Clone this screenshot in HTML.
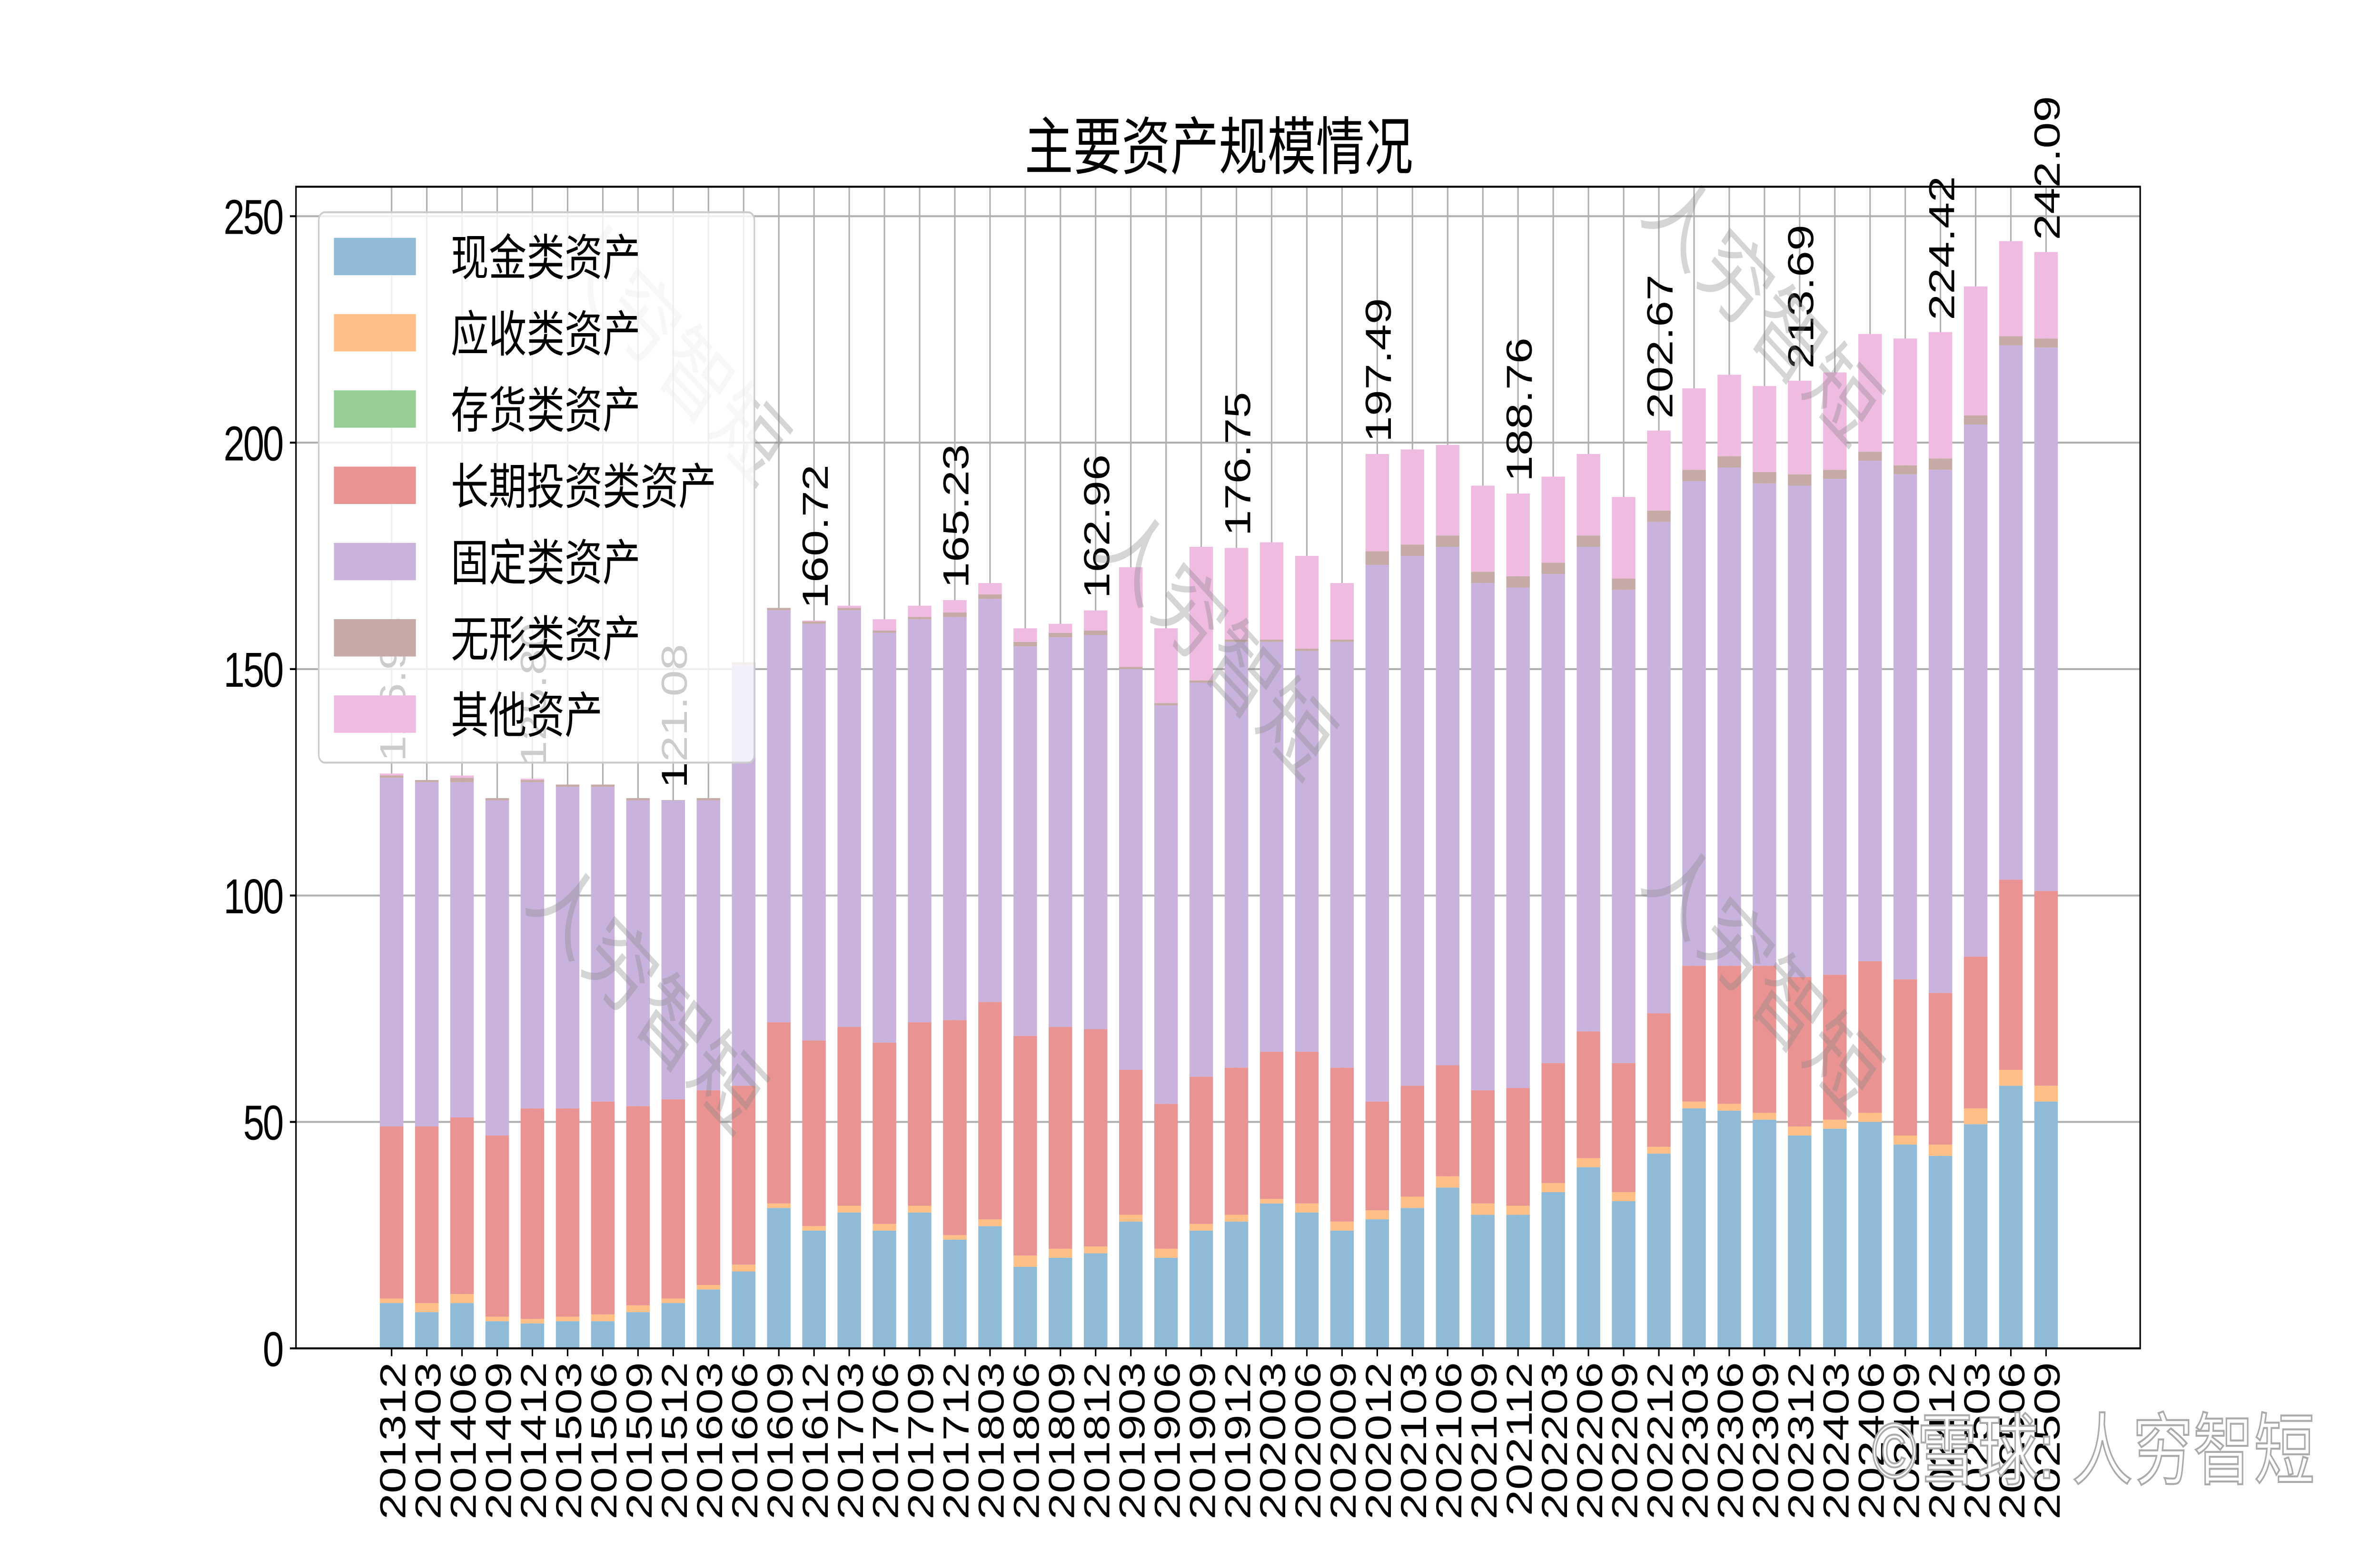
<!DOCTYPE html>
<html><head><meta charset="utf-8"><style>
html,body{margin:0;padding:0;background:#fff;overflow:hidden;width:100vw;height:100vh;}
svg{display:block;width:100vw;height:100vh;font-family:"Liberation Sans","Noto Sans CJK SC",sans-serif;}
</style></head><body>
<svg id="chart" xmlns="http://www.w3.org/2000/svg" viewBox="0 0 1568 784" preserveAspectRatio="none">
<rect width="1568" height="784" fill="#fff"/>
<text x="803" y="86" font-size="32" text-anchor="middle" fill="#000">主要资产规模情况</text>
<g id="grid"></g>
<g id="bars"></g>
<g id="labels"></g>
<g id="watermarks" fill="#888" fill-opacity="0.35" font-size="46">
<text transform="translate(360,130) rotate(40)">人穷智短</text>
<text transform="translate(720,280) rotate(40)">人穷智短</text>
<text transform="translate(345,460) rotate(40)">人穷智短</text>
<text transform="translate(1080,110) rotate(40)">人穷智短</text>
<text transform="translate(1080,450) rotate(40)">人穷智短</text>
</g>
<rect x="195" y="95" width="1215" height="591" fill="none" stroke="#000" stroke-width="1"/>
<g id="axes"></g>
<g id="legend"></g>
<text x="1525" y="752" font-size="40" text-anchor="end" fill="#fff" stroke="#aaa" stroke-width="1">©雪球: 人穷智短</text>
</svg>
<script>
const categories=["201312","201403","201406","201409","201412","201503","201506","201509","201512","201603","201606","201609","201612","201703","201706","201709","201712","201803","201806","201809","201812","201903","201906","201909","201912","202003","202006","202009","202012","202103","202106","202109","202112","202203","202206","202209","202212","202303","202306","202309","202312","202403","202406","202409","202412","202503","202506","202509"];
const cashAssets=[10,8,10,6,5.5,6,6,8,10,13,17,31,26,30,26,30,24,27,18,20,21,28,20,26,28,32,30,26,28.5,31,35.5,29.5,29.5,34.5,40,32.5,43,53,52.5,50.5,47,48.5,50,45,42.5,49.5,58,54.5];
const receivableAssets=[1,2,2,1,1,1,1.5,1.5,1,1,1.5,1,1,1.5,1.5,1.5,1,1.5,2.5,2,1.5,1.5,2,1.5,1.5,1,2,2,2,2.5,2.5,2.5,2,2,2,2,1.5,1.5,1.5,1.5,2,2,2,2,2.5,3.5,3.5,3.5];
const inventoryAssets=[0,0,0,0,0,0,0,0,0,0,0,0,0,0,0,0,0,0,0,0,0,0,0,0,0,0,0,0,0,0,0,0,0,0,0,0,0,0,0,0,0,0,0,0,0,0,0,0];
const investAssets=[38,39,39,40,46.5,46,47,44,44,43,39.5,40,41,39.5,40,40.5,47.5,48,48.5,49,48,32,32,32.5,32.5,32.5,33.5,34,24,24.5,24.5,25,26,26.5,28,28.5,29.5,30,30.5,32.5,33,32,33.5,34.5,33.5,33.5,42,43];
const fixedAssets=[77,76,74,74,72,71,69.5,67.5,66,64,93,91,92,92,90.5,89,89,89,86,86,87,88.5,88,87,94,90.5,88.5,94,118.5,117,114.5,112,110.5,108,107,104.5,108.5,107,110,106.5,108.5,109.5,110.5,111.5,115.5,117.5,118,120];
const intangibleAssets=[0.5,0.5,1,0.5,0.5,0.5,0.5,0.5,0.08,0.5,0.5,0.5,0.5,0.5,0.5,0.5,1,1,1,1,1,0.5,0.5,0.5,0.5,0.5,0.5,0.5,3,2.5,2.5,2.5,2.5,2.5,2.5,2.5,2.5,2.5,2.5,2.5,2.5,2,2,2,2.5,2,2,2];
const otherAssets=[0.44,0,0.5,0,0.3,0,0,0,0,0,0,0,0.22,0.5,2.5,2.5,2.73,2.5,3,2,4.46,22,16.5,29.5,20.25,21.5,20.5,12.5,21.49,21,20,19,18.26,19,18,18,17.67,18,18,19,20.69,21.5,26,28,27.92,28.5,21,19.09];
const yTicks=[0,50,100,150,200,250];
const seriesNames=["现金类资产","应收类资产","存货类资产","长期投资类资产","固定类资产","无形类资产","其他资产"];

const NS="http://www.w3.org/2000/svg";
const series=[cashAssets,receivableAssets,inventoryAssets,investAssets,fixedAssets,intangibleAssets,otherAssets];
const colors=["#8fbbd9","#ffbf86","#95cf95","#ea9393","#c9b3de","#c5aaa5","#f0bbe1"];
const seriesKeys=["cash","receivable","inventory","invest","fixed","intangible","other"];
const X0=258,X1=1348,BW=15.5;
function xPos(i){return X0+(X1-X0)*i/(categories.length-1);}
function yPos(v){return 686-v*(576/250);}
function mk(tag,attrs,parent){const e=document.createElementNS(NS,tag);for(const k in attrs)e.setAttribute(k,attrs[k]);parent.appendChild(e);return e;}
const grid=document.getElementById('grid'),bars=document.getElementById('bars'),labels=document.getElementById('labels'),axes=document.getElementById('axes'),legend=document.getElementById('legend');
yTicks.forEach(t=>{
  const l=mk('line',{x1:195,x2:1410,y1:yPos(t),y2:yPos(t),stroke:'#b0b0b0','stroke-width':1},grid);
  
  
  const tk=mk('line',{x1:191,x2:195,y1:yPos(t),y2:yPos(t),stroke:'#000'},axes);
  
  
  const tx=mk('text',{x:186,y:yPos(t)+9,'font-size':25,'text-anchor':'end','letter-spacing':-1},axes);
  tx.textContent=t;
  
  
});
categories.forEach((c,i)=>{
  const x=xPos(i);
  const g=mk('line',{x1:x,x2:x,y1:95,y2:686,stroke:'#b0b0b0','stroke-width':1},grid);
  
  
  let base=0;
  series.forEach((s,k)=>{
    const v=s[i];
    if(v>0){
      const r=mk('rect',{x:x-BW/2,y:yPos(base+v),width:BW,height:yPos(base)-yPos(base+v),fill:colors[k]},bars);
      
      
    }
    base+=v;
  });
  const tk=mk('line',{x1:x,x2:x,y1:686,y2:690,stroke:'#000'},axes);
  
  
  const tx=mk('text',{transform:'translate('+(x+9)+',693) rotate(-90)','font-size':24,'text-anchor':'end'},axes);
  tx.textContent=c;
  
  
  if(c.endsWith('12')||i===categories.length-1){
    const lb=mk('text',{transform:'translate('+(x+9)+','+(yPos(base)-6)+') rotate(-90)','font-size':24},labels);
    lb.textContent=base.toFixed(2);
    
    
  }
});
const box=mk('rect',{x:210,y:108,width:287,height:280,rx:4,fill:'#fff','fill-opacity':0.8,stroke:'#ccc'},legend);


seriesNames.forEach((n,k)=>{
  const y=131+k*38.8;
  const p=mk('rect',{x:220,y:y-10,width:54,height:19,fill:colors[k]},legend);
  
  
  const t=mk('text',{x:297,y:y+9,'font-size':25},legend);
  t.textContent=n;
  
  
});
</script>
</body></html>
